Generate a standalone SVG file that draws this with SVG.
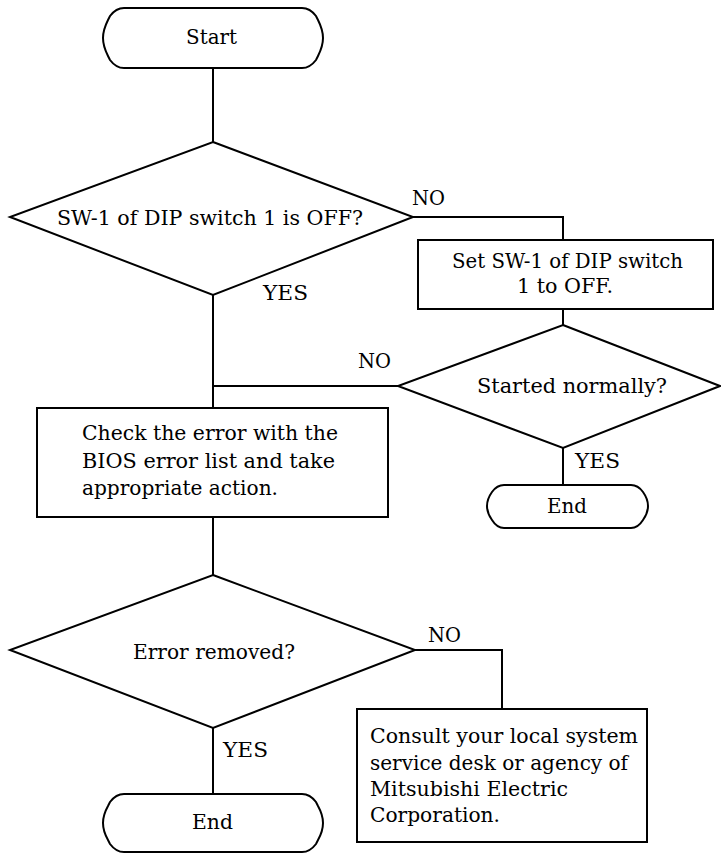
<svg xmlns="http://www.w3.org/2000/svg" width="721" height="853" viewBox="0 0 721 853">
<style>
.s{fill:#fff;stroke:#000;stroke-width:2}
.c{fill:none;stroke:#000;stroke-width:2}
text{font-family:"DejaVu Serif","Liberation Serif",serif;font-size:21px;fill:#000}
</style>
<rect width="721" height="853" fill="#fff"/>
<g id="connectors">
<path class="c" d="M213,68 V142"/>
<path class="c" d="M413,217 H563 V240"/>
<path class="c" d="M563,309 V325"/>
<path class="c" d="M213,295 V408"/>
<path class="c" d="M398,386 H213"/>
<path class="c" d="M563,448 V485"/>
<path class="c" d="M213,517 V575"/>
<path class="c" d="M415,650 H502 V709"/>
<path class="c" d="M213,728 V794"/>
<text x="412" y="205" textLength="33" lengthAdjust="spacingAndGlyphs">NO</text>
<text x="263" y="300" textLength="45" lengthAdjust="spacingAndGlyphs">YES</text>
<text x="358" y="368" textLength="33" lengthAdjust="spacingAndGlyphs">NO</text>
<text x="575" y="468" textLength="45" lengthAdjust="spacingAndGlyphs">YES</text>
<text x="428" y="642" textLength="33" lengthAdjust="spacingAndGlyphs">NO</text>
<text x="223" y="757" textLength="45" lengthAdjust="spacingAndGlyphs">YES</text>
</g>
<g id="start">
<path class="s" d="M124,8 H302 Q310,8 316,16 L318,20 Q323,30 323,38 Q323,46 318,56 L316,60 Q310,68 302,68 H124 Q116,68 110,60 L108,56 Q103,46 103,38 Q103,30 108,20 L110,16 Q116,8 124,8 Z"/>
<text x="186" y="44" textLength="51" lengthAdjust="spacingAndGlyphs">Start</text>
</g>
<g id="dip-check">
<polygon class="s" points="213,142 413,217 213,295 10,217"/>
<text x="57" y="225" textLength="306" lengthAdjust="spacingAndGlyphs">SW-1 of DIP switch 1 is OFF?</text>
</g>
<g id="set-sw">
<rect class="s" x="418" y="240" width="295" height="69"/>
<text x="452" y="268" textLength="231" lengthAdjust="spacingAndGlyphs">Set SW-1 of DIP switch</text>
<text x="517" y="293" textLength="96" lengthAdjust="spacingAndGlyphs">1 to OFF.</text>
</g>
<g id="started">
<polygon class="s" points="563,325 720,386 563,448 398,386"/>
<text x="477" y="393" textLength="190" lengthAdjust="spacingAndGlyphs">Started normally?</text>
</g>
<g id="end1">
<path class="s" d="M504,485 H631 Q638,485 643,492 Q648,499 648,506 Q648,513 643,520 Q638,528 631,528 H504 Q497,528 492,520 Q487,513 487,506 Q487,499 492,492 Q497,485 504,485 Z"/>
<text x="547" y="513" textLength="40" lengthAdjust="spacingAndGlyphs">End</text>
</g>
<g id="check-bios">
<rect class="s" x="37" y="408" width="351" height="109"/>
<text x="82" y="440" textLength="256" lengthAdjust="spacingAndGlyphs">Check the error with the</text>
<text x="82" y="468" textLength="253" lengthAdjust="spacingAndGlyphs">BIOS error list and take</text>
<text x="82" y="495" textLength="196" lengthAdjust="spacingAndGlyphs">appropriate action.</text>
</g>
<g id="error-removed">
<polygon class="s" points="213,575 415,650 213,728 10,650"/>
<text x="133" y="659" textLength="162" lengthAdjust="spacingAndGlyphs">Error removed?</text>
</g>
<g id="consult">
<rect class="s" x="357" y="709" width="290" height="133"/>
<text x="370" y="743" textLength="268" lengthAdjust="spacingAndGlyphs">Consult your local system</text>
<text x="370" y="770" textLength="258" lengthAdjust="spacingAndGlyphs">service desk or agency of</text>
<text x="370" y="796" textLength="198" lengthAdjust="spacingAndGlyphs">Mitsubishi Electric</text>
<text x="370" y="822" textLength="130" lengthAdjust="spacingAndGlyphs">Corporation.</text>
</g>
<g id="end2">
<path class="s" d="M124,794 H302 Q310,794 316,802 L318,806 Q323,815 323,823 Q323,831 318,840 L316,844 Q310,852 302,852 H124 Q116,852 110,844 L108,840 Q103,831 103,823 Q103,815 108,806 L110,802 Q116,794 124,794 Z"/>
<text x="192" y="829" textLength="41" lengthAdjust="spacingAndGlyphs">End</text>
</g>
</svg>
